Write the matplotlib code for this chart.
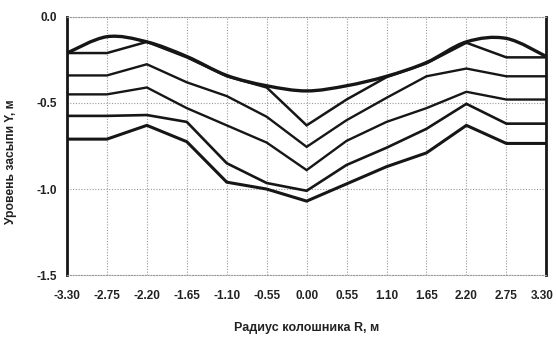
import matplotlib
matplotlib.use('Agg')
import matplotlib.pyplot as plt
import matplotlib.transforms as mtransforms
from matplotlib.path import Path
from matplotlib.patches import PathPatch

plt.rcParams['font.family'] = ['Liberation Sans', 'DejaVu Sans']

# радиус колошника, м
r = [-3.30, -2.75, -2.20, -1.65, -1.10, -0.55, 0.00, 0.55, 1.10, 1.65, 2.20, 2.75, 3.30]

# верхняя (сглаженная) граница засыпи
top = [-0.21, -0.115, -0.145, -0.23, -0.34, -0.40, -0.43, -0.40, -0.345, -0.265, -0.145, -0.125, -0.23]

# уровни засыпи, м
lvl1 = [-0.21, -0.21, -0.145, -0.235, -0.345, -0.41, -0.63, -0.48, -0.35, -0.27, -0.15, -0.235, -0.235]
lvl2 = [-0.34, -0.34, -0.275, -0.38, -0.46, -0.58, -0.755, -0.60, -0.47, -0.345, -0.30, -0.345, -0.345]
lvl3 = [-0.45, -0.45, -0.41, -0.53, -0.63, -0.73, -0.89, -0.72, -0.61, -0.53, -0.435, -0.48, -0.48]
lvl4 = [-0.575, -0.575, -0.57, -0.61, -0.85, -0.965, -1.01, -0.86, -0.76, -0.65, -0.505, -0.62, -0.62]
lvl5 = [-0.71, -0.71, -0.63, -0.725, -0.96, -1.00, -1.07, -0.97, -0.87, -0.79, -0.63, -0.735, -0.735]

yticks = [0.0, -0.5, -1.0, -1.5]
xlabel = 'Радиус колошника R, м'
ylabel = 'Уровень засыпи Y, м'


def smooth_path(x, y):
    # excel-like smoothed line (bezier through the points)
    n = len(x)
    verts = [(x[0], y[0])]
    codes = [Path.MOVETO]
    for i in range(n - 1):
        a = i - 1 if i > 0 else i
        b = i + 2 if i + 2 < n else i + 1
        c1 = (x[i] + (x[i + 1] - x[a]) / 6, y[i] + (y[i + 1] - y[a]) / 6)
        c2 = (x[i + 1] - (x[b] - x[i]) / 6, y[i + 1] - (y[b] - y[i]) / 6)
        verts += [c1, c2, (x[i + 1], y[i + 1])]
        codes += [Path.CURVE4] * 3
    return Path(verts, codes)


fig = plt.figure(figsize=(5.56, 3.38), dpi=100)
ax = fig.add_axes([0.1205, 0.186, 0.862, 0.764])

ink = '#161616'
for s, lw in [(lvl1, 1.8), (lvl2, 1.7), (lvl3, 1.7), (lvl4, 1.9), (lvl5, 2.2)]:
    ax.plot(r, s, color=ink, lw=lw, solid_joinstyle='miter')
ax.add_patch(PathPatch(smooth_path(r, top), fill=False, ec=ink, lw=2.4))

ax.set_xlim(-3.30, 3.30)
ax.set_ylim(-1.5, 0.0)
ax.set_xticks(r)
ax.set_xticklabels(['%.2f' % v for v in r])
ax.set_yticks(yticks)
ax.set_yticklabels(['%.1f' % v for v in yticks])
ax.tick_params(axis='both', length=0, labelsize=8.5, labelcolor='#222222')
ax.tick_params(axis='x', pad=11)
ax.tick_params(axis='y', pad=7)
for lab in ax.get_xticklabels() + ax.get_yticklabels():
    lab.set_fontweight('bold')
# last label sits at the right edge of the picture
last = ax.get_xticklabels()[-1]
last.set_transform(last.get_transform() +
                   mtransforms.ScaledTranslation(-4 / 100, 0, fig.dpi_scale_trans))

ax.grid(True, color='#9a9a9a', lw=0.8, ls=(0, (1, 1.5)))
ax.set_axisbelow(True)
for side in ['left', 'right']:
    ax.spines[side].set_color(ink)
    ax.spines[side].set_linewidth(2.0)
for side in ['top', 'bottom']:
    ax.spines[side].set_color('#9a9a9a')
    ax.spines[side].set_linewidth(0.8)
    ax.spines[side].set_linestyle((0, (1, 1.5)))

ax.set_xlabel(xlabel, fontsize=9, fontweight='bold', color='#222222')
ax.set_ylabel(ylabel, fontsize=8.7, fontweight='bold', color='#222222')
ax.xaxis.set_label_coords(0.499, -0.182)
ax.yaxis.set_label_coords(-0.104, 0.44)

fig.savefig('out.png', dpi=100)
